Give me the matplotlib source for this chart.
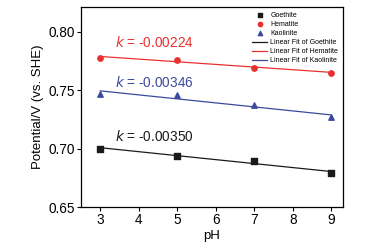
import numpy as np
import matplotlib
matplotlib.use("Agg")
import matplotlib.pyplot as plt

ph = [3, 5, 7, 9]
goethite = [0.7000, 0.6940, 0.6890, 0.6790]
hematite = [0.7777, 0.7760, 0.7690, 0.7649]
kaolinite = [0.7466, 0.7457, 0.7371, 0.7266]
slope_labels = ["-0.00350", "-0.00224", "-0.00346"]

black = "#1a1a1a"
red = "#e8312f"
blue = "#3a4a9e"

plt.rcParams["font.family"] = ["Liberation Sans", "DejaVu Sans"]

fig = plt.figure(figsize=(3.78, 2.49), dpi=100)
ax = fig.add_axes([81 / 378, 42 / 249, 262 / 378, 200 / 249])

series = [
    ("Goethite", goethite, black, "s"),
    ("Hematite", hematite, red, "o"),
    ("Kaolinite", kaolinite, blue, "^"),
]
x = np.array(ph)
handles_pts = []
handles_fit = []
for name, y, c, m in series:
    h = ax.scatter(x, y, color=c, marker=m, s=15, zorder=3, label=name)
    handles_pts.append(h)
for name, y, c, m in series:
    k, b = np.polyfit(x, y, 1)
    (l,) = ax.plot(x, k * x + b, color=c, lw=0.9, label="Linear Fit of " + name)
    handles_fit.append(l)

ax.text(3.38, 0.7106, "$k$ = " + slope_labels[0], color=black, fontsize=9.8, va="center")
ax.text(3.38, 0.7906, "$k$ = " + slope_labels[1], color=red, fontsize=9.8, va="center")
ax.text(3.38, 0.7563, "$k$ = " + slope_labels[2], color=blue, fontsize=9.8, va="center")

ax.set_xlim(2.5, 9.3)
ax.set_ylim(0.65, 0.821)
ax.set_xticks(range(3, 10))
ax.set_yticks([0.65, 0.70, 0.75, 0.80])
ax.set_yticklabels(["0.65", "0.70", "0.75", "0.80"])
ax.tick_params(labelsize=9.8, length=3, width=0.8, pad=1.5)
ax.set_xlabel("pH", fontsize=9.5, labelpad=2)
ax.set_ylabel("Potential/V (vs. SHE)", fontsize=9.5, labelpad=3)
for s in ax.spines.values():
    s.set_linewidth(0.9)

ax.legend(handles=handles_pts + handles_fit, loc="upper right", frameon=False,
          fontsize=5, handlelength=2.2, handletextpad=0.4, labelspacing=0.3,
          borderaxespad=0.3, markerscale=0.8)

fig.savefig("out.png", dpi=100)
